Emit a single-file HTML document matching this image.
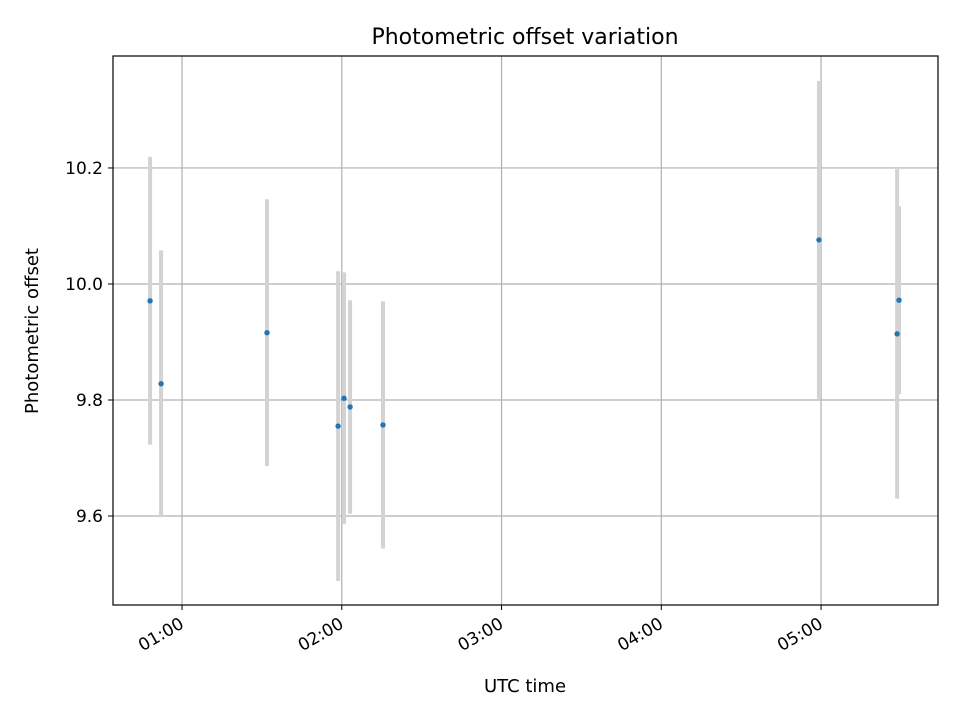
<!DOCTYPE html>
<html><head><meta charset="utf-8"><style>
body{margin:0;background:#fff;font-family:"DejaVu Sans","Liberation Sans",sans-serif}
svg text{font-family:"DejaVu Sans","Liberation Sans",sans-serif}
</style></head><body>
<svg id="chart" width="960" height="720" xmlns="http://www.w3.org/2000/svg">
<rect width="960" height="720" fill="#fff"/>
<text x="525" y="44" text-anchor="middle" font-size="22">Photometric offset variation</text>
<g id="grid"></g>
<g id="bars"></g>
<g id="pts"></g>
<rect x="113" y="56" width="825" height="549" fill="none" stroke="#000" stroke-width="1.2"/>
<g id="ticks"></g>
<text x="525" y="692" text-anchor="middle" font-size="18">UTC time</text>
<text x="38" y="331" text-anchor="middle" font-size="18" transform="rotate(-90 38 331)">Photometric offset</text>
</svg>
<script>
const times = [0.80, 0.869, 1.532, 1.977, 2.014, 2.052, 2.258, 4.987, 5.476, 5.488];
const offsets = [9.971, 9.828, 9.916, 9.755, 9.803, 9.788, 9.757, 10.076, 9.914, 9.972];
const errors = [0.248, 0.23, 0.23, 0.267, 0.217, 0.184, 0.213, 0.274, 0.284, 0.162];
const xTicks = [1, 2, 3, 4, 5];
const xTickLabels = ["01:00", "02:00", "03:00", "04:00", "05:00"];
const yTicks = [9.6, 9.8, 10.0, 10.2];
const yTickLabels = ["9.6", "9.8", "10.0", "10.2"];
const X0=113,X1=938,Y0=56,Y1=605, xmin=0.568,xmax=5.732,ymin=9.4466,ymax=10.393;
const sx=h=>X0+(h-xmin)/(xmax-xmin)*(X1-X0);
const sy=v=>Y1-(v-ymin)/(ymax-ymin)*(Y1-Y0);
const NS="http://www.w3.org/2000/svg";
function mk(t,a,p){const e=document.createElementNS(NS,t);for(const k in a)e.setAttribute(k,a[k]);p.appendChild(e);return e;}
const grid=document.getElementById('grid'),ticks=document.getElementById('ticks'),bars=document.getElementById('bars'),pts=document.getElementById('pts');
xTicks.forEach((h,i)=>{const x=sx(h);
 const g=mk('line',{x1:x,x2:x,y1:Y0,y2:Y1,stroke:'#b0b0b0','stroke-width':1.2},grid);
 
 
 const t=mk('line',{x1:x,x2:x,y1:Y1,y2:Y1+5,stroke:'#000'},ticks);
 
 
 const ax=x+3, ay=Y1+22;
 const l=mk('text',{x:ax,y:ay,'text-anchor':'end','font-size':17,transform:`rotate(-30 ${ax} ${ay})`},ticks);
 l.textContent=xTickLabels[i];
 
 
});
yTicks.forEach((v,i)=>{const y=sy(v);
 const g=mk('line',{x1:X0,x2:X1,y1:y,y2:y,stroke:'#b0b0b0','stroke-width':1.2},grid);
 
 
 const t=mk('line',{x1:X0-5,x2:X0,y1:y,y2:y,stroke:'#000'},ticks);
 
 
 const l=mk('text',{x:X0-10,y:y+6,'text-anchor':'end','font-size':17},ticks);
 l.textContent=yTickLabels[i];
 
 
});
times.forEach((h,i)=>{const x=sx(h);
 const b=mk('line',{x1:x,x2:x,y1:sy(offsets[i]+errors[i]),y2:sy(offsets[i]-errors[i]),stroke:'#d3d3d3','stroke-width':4},bars);
 
 
});
times.forEach((h,i)=>{
 const c=mk('circle',{cx:sx(h),cy:sy(offsets[i]),r:2.7,fill:'#1f77b4'},pts);
 
 
});
</script>
</body></html>
